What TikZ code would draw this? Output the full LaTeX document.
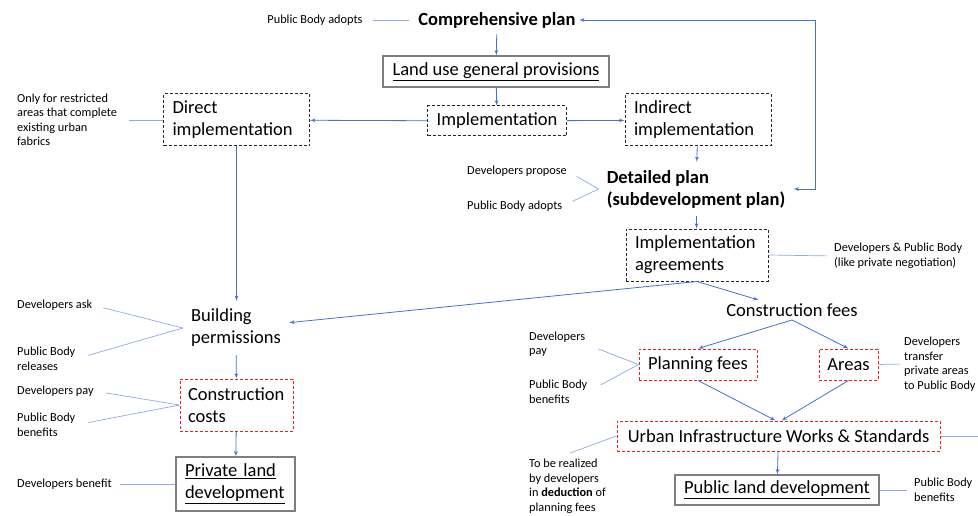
\documentclass[tikz,border=0pt]{standalone}
\usepackage{fontspec}
\setmainfont{Carlito}
\usetikzlibrary{arrows,positioning}
\definecolor{cblue}{RGB}{68,114,196}
\definecolor{clight}{RGB}{143,170,220}
\definecolor{cred}{RGB}{240,30,30}
\definecolor{cgray}{RGB}{127,127,127}

\begin{document}
\begin{tikzpicture}[x=1pt,y=-1pt,>=latex',
  big/.style={font=\fontsize{18.5}{22}\selectfont},
  bold/.style={font=\bfseries\fontsize{18.5}{22}\selectfont},
  small/.style={font=\fontsize{12.3}{14.5}\selectfont,align=left,inner sep=0pt},
  plain node/.style={big,draw=cgray,line width=1.2pt,align=left,inner xsep=9pt},
  dash node/.style={big,draw=black!85,line width=1pt,dash pattern=on 3pt off 2pt,align=left,inner xsep=9pt},
  red node/.style={big,draw=cred,line width=1pt,dash pattern=on 3pt off 2pt,align=left,inner xsep=9pt},
  arr/.style={->,draw=cblue,line width=0.8pt},
  link/.style={-,draw=clight,line width=0.7pt}]
  \useasboundingbox (0,0) rectangle (978,516);
  \clip (0,0) rectangle (978,516);

  % upper part
  \node[bold] (comp) at (497,20) {Comprehensive plan};
  \node[small] (pbadopts) at (315,20) {Public Body adopts};
  \node[plain node,minimum width=226pt,minimum height=31pt] (landuse) at (496,71.5) {\underline{Land use general provisions}};
  \node[dash node,minimum width=138pt,minimum height=30pt] (impl) at (497,121) {Implementation};
  \node[dash node,text width=128pt,minimum height=52pt] (direct) at (236.5,120) {Direct\\implementation};
  \node[dash node,text width=128pt,minimum height=52pt] (indirect) at (698,120) {Indirect\\implementation};
  \node[small,anchor=west] (onlyfor) at (17,120) {Only for restricted\\areas that complete\\existing urban\\fabrics};
  \node[bold,align=left,inner sep=8pt] (detailed) at (696,189) {Detailed plan\\(subdevelopment plan)};
  \node[small,anchor=west] (devpropose) at (467,171) {Developers propose};
  \node[small,anchor=west] (pbadopts2) at (467,206) {Public Body adopts};
  \node[dash node,text width=124pt,minimum height=52pt] (agree) at (697,255) {Implementation\\agreements};
  \node[small,anchor=west] (devpublic) at (834,256) {Developers \& Public Body\\(like private negotiation)};
  \coordinate (corner) at (815,20);

  % right part
  \node[big] (cfees) at (792,310) {Construction fees};
  \node[red node,minimum width=118pt,minimum height=31pt] (pfees) at (698,364.5) {Planning fees};
  \node[red node,minimum width=59pt,minimum height=31pt,inner xsep=4pt] (areas) at (848.5,364.5) {Areas};
  \node[small,anchor=west] (devpay2) at (529,344) {Developers\\pay};
  \node[small,anchor=west] (pbben2) at (529,392) {Public Body\\benefits};
  \node[small,anchor=west] (transfer) at (904,364) {Developers\\transfer\\private areas\\to Public Body};
  \node[red node,minimum width=323pt,minimum height=30pt] (urban) at (778.5,436) {Urban Infrastructure Works \& Standards};
  \node[small,anchor=north west] (realized) at (529,459) {To be realized\\by developers\\in \textbf{deduction} of\\planning fees};
  \coordinate (realtip) at (570,453);
  \coordinate (edge) at (978,436);
  \node[plain node,minimum width=202pt,minimum height=30pt] (publand) at (777,490) {\underline{Public land development}};
  \node[small,anchor=west] (pbben3) at (914,490) {Public Body\\benefits};

  % left part
  \node[big,align=left,inner sep=8pt] (build) at (236,328) {Building\\permissions};
  \node[small,anchor=west] (devask) at (17,305) {Developers ask};
  \node[small,anchor=west] (pbrel) at (17,359) {Public Body\\releases};
  \node[red node,text width=97pt,inner xsep=8pt,minimum height=52pt] (costs) at (236.5,405) {Construction\\costs};
  \node[small,anchor=west] (devpay) at (17,391) {Developers pay};
  \node[small,anchor=west] (pbben1) at (17,425) {Public Body\\benefits};
  \node[plain node,text width=101pt,minimum height=54pt] (private) at (235.5,484) {\underline{Private land}\\\underline{development}};
  \node[small,anchor=west] (devben) at (17,484) {Developers benefit};

  \draw[link,shorten <=10pt,shorten >=6pt] (pbadopts) -- (comp);
  \draw[arr,shorten <=3pt] (comp) -- (landuse);
  \draw[arr] (landuse) -- (impl);
  \draw[arr] (impl) -- (direct);
  \draw[arr] (impl) -- (indirect);
  \draw[link,shorten <=12pt] (onlyfor.east) -- (direct.west);
  \draw[arr] (indirect) -- (detailed);
  \draw[arr,<->] (comp) -- (corner) |- (detailed);
  \draw[link,shorten <=11pt] (devpropose.east) -- (detailed.west);
  \draw[link,shorten <=11pt] (pbadopts2.east) -- (detailed.west);
  \draw[arr] (detailed) -- (agree);
  \draw[link,shorten >=7pt] (agree.east) -- (devpublic.west);
  \draw[arr] (agree.south) -- (build);
  \draw[arr] (agree.south) -- (cfees);
  \draw[arr] (cfees.south) -- (pfees.north);
  \draw[arr] (cfees.south) -- (areas.north);
  \draw[link,shorten <=14pt] (devpay2.east) -- (pfees.west);
  \draw[link,shorten <=15pt] (pbben2.east) -- (pfees.west);
  \draw[link,shorten >=4pt] (areas.east) -- (transfer.west);
  \draw[arr] (pfees.south) -- ([xshift=-3pt]urban.north);
  \draw[arr] (areas.south) -- ([xshift=3pt]urban.north);
  \draw[link] (urban.east) -- (edge);
  \draw[link] (urban.west) -- (realtip);
  \draw[arr] (urban) -- (publand);
  \draw[link,shorten >=7pt] (publand.east) -- (pbben3.west);

  \draw[arr] (direct.south) -- (direct.south |- build.north);
  \draw[link,shorten <=11pt] (devask.east) -- (build.west);
  \draw[link,shorten <=13pt] (pbrel.east) -- (build.west);
  \draw[arr] (build) -- (costs);
  \draw[link,shorten <=12pt] (devpay.east) -- (costs.west);
  \draw[link,shorten <=13pt] (pbben1.east) -- (costs.west);
  \draw[arr] (costs) -- (private);
  \draw[link,shorten <=8pt] (devben.east) -- (private.west);
\end{tikzpicture}
\end{document}
